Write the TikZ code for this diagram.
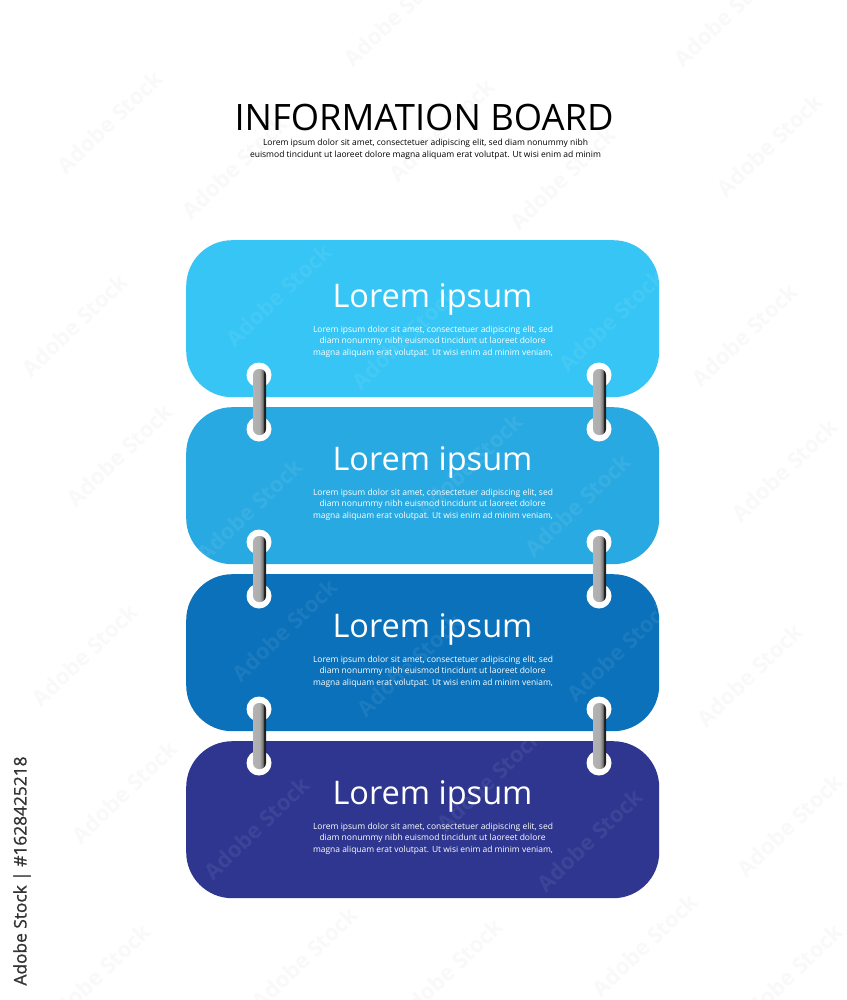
\documentclass[tikz,border=0pt]{standalone}
\usepackage{fontspec}
\usepackage{graphicx}
\setmainfont{Open Sans}
\definecolor{boardA}{HTML}{36C5F5}
\definecolor{boardB}{HTML}{29A9E1}
\definecolor{boardC}{HTML}{0A71BA}
\definecolor{boardD}{HTML}{2E3690}
\definecolor{paperMark}{HTML}{F9F9F9}
\pgfdeclarehorizontalshading{ringshade}{100bp}{
  color(0bp)=(black!30); color(25bp)=(black!30); color(50bp)=(black!32); color(58bp)=(black!45);
  color(63bp)=(black!55); color(66bp)=(black!85); color(75bp)=(black!90); color(100bp)=(black!90)}
\newcommand{\fitw}[2]{\resizebox{#1pt}{!}{#2}}
\newcommand{\bodyA}{Lorem ipsum dolor sit amet, consectetuer adipiscing elit, sed}
\newcommand{\bodyB}{diam nonummy nibh euismod tincidunt ut laoreet dolore}
\newcommand{\bodyC}{magna aliquam erat volutpat. Ut wisi enim ad minim veniam,}
\tikzset{
  x=1pt,y=-1pt,
  board/.style={rounded corners=46pt,minimum width=473pt,minimum height=157pt,inner sep=0pt,anchor=north west},
  holeshape/.style={circle,fill=white,minimum size=25pt,inner sep=0pt},
  ringshape/.style={rounded corners=6pt,minimum width=13pt,minimum height=66pt,inner sep=0pt,shading=ringshade},
  textline/.style={inner sep=0pt,text=white,anchor=center},
  markbase/.style={inner sep=0pt,rotate=44,font=\bfseries\fontsize{22}{22}\selectfont},
  papermark/.style={markbase,text=paperMark},
  boardmark/.style={markbase,text=white,text opacity=.07},
}
\begin{document}
\begin{tikzpicture}
\useasboundingbox (0,0) rectangle (846,1000);
\fill[white] (0,0) rectangle (846,1000);
% faint marks on the white ground
\foreach \i/\px/\py in {1/110/122,2/235/167,3/442/130,4/563/178,5/770/145,6/727/15,7/75/325,8/120/455,9/85/655,10/125/792,11/305/958,12/98/975,13/450/970,14/645/945,15/790/975,16/790/825,17/750/675,18/785/470,19/745/335,20/397/15}
  \node[papermark] (wm\i) at (\px,\py) {Adobe Stock};
% boards
\foreach \n/\c/\t in {a/boardA/240,b/boardB/407,c/boardC/574,d/boardD/741}{
  \node[board,fill=\c] (board\n) at (186,\t) {};
}
% faint marks on the boards
\foreach \i/\px/\py in {1/279/295,2/612/320,3/405/338,4/250/510,5/578/505,6/470/465,7/285/630,8/620/650,9/410/665,10/257/828,11/590/840,12/490/780}
  \node[boardmark] (wo\i) at (\px,\py) {Adobe Stock};
% holes and rings
\foreach \n/\ya/\yb/\yr in {a/375/429/402,b/542/596/569,c/709/763/736}{
  \node[holeshape] (hl\n u) at (259,\ya) {};
  \node[holeshape] (hl\n l) at (259,\yb) {};
  \node[holeshape] (hr\n u) at (599,\ya) {};
  \node[holeshape] (hr\n l) at (599,\yb) {};
  \node[ringshape] (rl\n) at (259.5,\yr) {};
  \node[ringshape] (rr\n) at (599.5,\yr) {};
}
% board texts
\foreach \n/\t in {a/299,b/462,c/629,d/796}{
  \node[textline] (head\n) at (432.5,\t) {\fitw{200}{\fontsize{36}{36}\selectfont Lorem ipsum}};
  \pgfmathsetmacro{\la}{\t+31}
  \pgfmathsetmacro{\lb}{\t+42.5}
  \pgfmathsetmacro{\lc}{\t+54}
  \node[textline] (la\n) at (433,\la) {\fitw{240}{\bodyA}};
  \node[textline] (lb\n) at (432.5,\lb) {\fitw{226}{\bodyB}};
  \node[textline] (lc\n) at (433,\lc) {\fitw{240}{\bodyC}};
}
% title
\node[inner sep=0pt,text=black] (title) at (424,117.5) {\fitw{379}{\fontsize{40}{40}\selectfont INFORMATION BOARD}};
\node[inner sep=0pt,text=black] (suba) at (425.5,143) {\fitw{325}{Lorem ipsum dolor sit amet, consectetuer adipiscing elit, sed diam nonummy nibh}};
\node[inner sep=0pt,text=black] (subb) at (425.5,155) {\fitw{351}{euismod tincidunt ut laoreet dolore magna aliquam erat volutpat. Ut wisi enim ad minim}};
% side label
\node[inner sep=0pt,text=black!80,rotate=90] (side) at (22,871) {\fitw{229}{\fontsize{15}{15}\selectfont\addfontfeature{FakeBold=1}Adobe Stock | \#1628425218}};
\end{tikzpicture}
\end{document}
